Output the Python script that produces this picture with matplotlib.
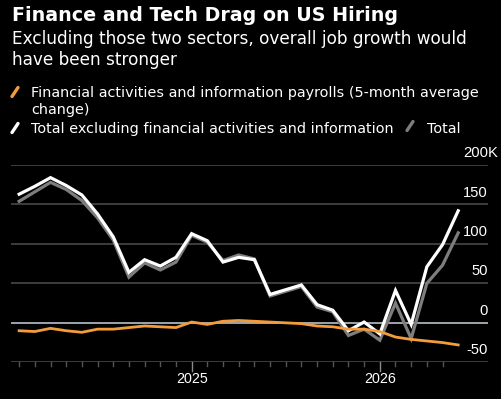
import numpy as np
from matplotlib import pyplot as plt
from matplotlib.lines import Line2D

# monthly points, Feb 2024 .. Jun 2026
months = np.arange(29)
fin_info = [-10, -11, -7, -10, -12, -8, -8, -6, -4, -5, -6, 1, -2, 2, 3,
            2, 1, 0, -1, -4, -5, -8, -8, -11, -18, -21, -23, -25, -28]
total_ex = [163, 173, 184, 174, 162, 138, 109, 64, 80, 72, 83, 113, 104, 77, 83,
            80, 36, 42, 48, 23, 16, -10, 1, -14, 41, -2, 71, 99, 142]
total = [154, 166, 178, 169, 155, 133, 105, 58, 76, 67, 77, 111, 102, 79, 86,
         81, 34, 40, 46, 20, 14, -16, -8, -22, 25, -20, 50, 73, 114]
year_ticks = [11, 23]
year_labels = ["2025", "2026"]
y_grid = [-50, 0, 50, 100, 150, 200]
y_labels = ["-50", "0", "50", "100", "150", "200"]

W, H = 502, 399
fig = plt.figure(figsize=(W / 100, H / 100), dpi=100)
fig.patch.set_facecolor("black")

def fx(px):
    return px / W

def fy(py):
    return 1 - py / H

ax = fig.add_axes([fx(11), fy(362.3), fx(488) - fx(11), fy(165) - fy(362.3)])
ax.set_facecolor("black")
ax.set_xlim(-0.52, 29.9)
ax.set_ylim(-50, 200)
for s in ax.spines.values():
    s.set_visible(False)
ax.set_xticks([])
ax.set_yticks([])

for g in y_grid:
    if g == 0:
        ax.axhline(g, color="#c9d2da", lw=1.1, zorder=1)
    else:
        ax.axhline(g, color="#4d4d4d", lw=1.1, zorder=1)

# month ticks under the axis
for m in range(28):
    h = 9 if m in year_ticks else 4
    ax.plot([m, m], [-50, -50 - h / 0.792], color="#8a8a8a" if m in year_ticks else "#555555",
            lw=1, clip_on=False, zorder=1)
for m, lab in zip(year_ticks, year_labels):
    ax.text(m, -50 - 17 / 0.792, lab, color="white", fontsize=10.3, ha="center", va="center",
            family="Liberation Sans")

ax.plot(months, total, color="#7d7d7d", lw=2.3, solid_joinstyle="miter", zorder=2)
ax.plot(months, total_ex, color="white", lw=2.3, solid_joinstyle="miter", zorder=3)
ax.plot(months, fin_info, color="#f39c3c", lw=2.0, zorder=4)

for g, lab in zip(y_grid, y_labels):
    ax.text(29.9, g + 12 / 0.792, lab, color="white", fontsize=10.6, ha="right", va="center",
            family="Liberation Sans")
ax.text(29.9, 200 + 12 / 0.792, "K", color="white", fontsize=10.6, ha="left", va="center",
        family="Liberation Sans")

fig.text(fx(12), fy(20.7), "Finance and Tech Drag on US Hiring", color="white",
         fontsize=13.7, fontweight="bold", family="DejaVu Sans", va="baseline")
fig.text(fx(12), fy(44.3), "Excluding those two sectors, overall job growth would",
         color="white", fontsize=12.2, family="DejaVu Sans", va="baseline")
fig.text(fx(12), fy(65), "have been stronger", color="white", fontsize=12.2,
         family="DejaVu Sans", va="baseline")

fig.text(fx(31), fy(97.3), "Financial activities and information payrolls (5-month average",
         color="white", fontsize=10.35, family="DejaVu Sans", va="baseline")
fig.text(fx(31), fy(114), "change)", color="white", fontsize=10.35,
         family="DejaVu Sans", va="baseline")
fig.text(fx(31), fy(132.7), "Total excluding financial activities and information",
         color="white", fontsize=10.35, family="DejaVu Sans", va="baseline")
fig.text(fx(427), fy(132.7), "Total", color="white", fontsize=10.35,
         family="DejaVu Sans", va="baseline")

for x0, y0, c in [(12, 96.5, "#f39c3c"), (12, 132.5, "white"), (407, 130.5, "#7d7d7d")]:
    fig.add_artist(Line2D([fx(x0), fx(x0 + 6)], [fy(y0), fy(y0 - 9)], color=c, lw=2.4,
                          solid_capstyle="round"))

fig.savefig("out.png", dpi=100, facecolor="black")
